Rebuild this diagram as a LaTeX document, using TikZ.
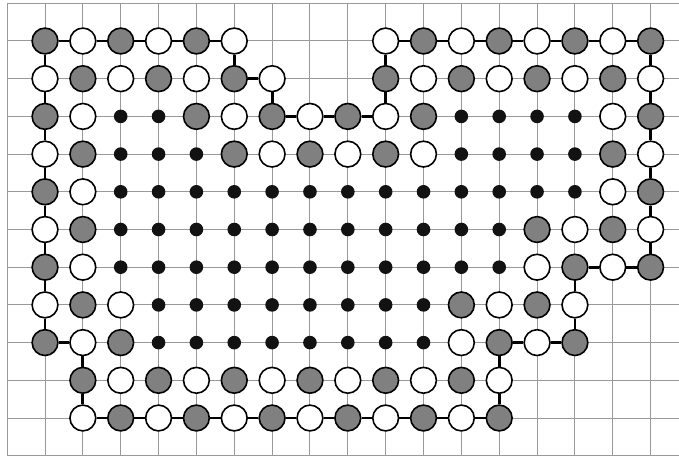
\documentclass[tikz,border=0pt]{standalone}
\usetikzlibrary{backgrounds}
\definecolor{gridc}{gray}{0.6}
\definecolor{fillg}{gray}{0.5}
\definecolor{dotc}{gray}{0.07}
\tikzset{
  gnode/.style={circle,draw=black,fill=fillg,line width=1.6pt,minimum size=25.8pt,inner sep=0pt},
  wnode/.style={gnode,fill=white},
  dotnode/.style={circle,fill=dotc,minimum size=13.6pt,inner sep=0pt},
  gridline/.style={draw=gridc,line width=1pt},
  loopline/.style={draw=black,line width=2.8pt},
}
\begin{document}
\begin{tikzpicture}[x=37.85pt,y=-37.7pt]
\useasboundingbox (-1.189,-1.0875) rectangle (16.750,11.034);
% ring circles (gray when column+row is even)
\foreach \r/\cl in {0/{0,1,2,3,4,5,9,10,11,12,13,14,15,16},
                    1/{0,1,2,3,4,5,6,9,10,11,12,13,14,15,16},
                    2/{0,1,4,5,6,7,8,9,10,15,16},
                    3/{0,1,5,6,7,8,9,10,15,16},
                    4/{0,1,15,16},
                    5/{0,1,13,14,15,16},
                    6/{0,1,13,14,15,16},
                    7/{0,1,2,11,12,13,14},
                    8/{0,1,2,11,12,13,14},
                    9/{1,2,3,4,5,6,7,8,9,10,11,12},
                    10/{1,2,3,4,5,6,7,8,9,10,11,12}}{
  \foreach \c in \cl {
    \pgfmathtruncatemacro\p{mod(\c+\r,2)}
    \ifnum\p=0
      \node[gnode] (n\c-\r) at (\c,\r) {};
    \else
      \node[wnode] (n\c-\r) at (\c,\r) {};
    \fi
  }
}
% interior dots
\foreach \r/\cl in {2/{2,3,11,12,13,14},
                    3/{2,3,4,11,12,13,14},
                    4/{2,3,4,5,6,7,8,9,10,11,12,13,14},
                    5/{2,3,4,5,6,7,8,9,10,11,12},
                    6/{2,3,4,5,6,7,8,9,10,11,12},
                    7/{3,4,5,6,7,8,9,10},
                    8/{3,4,5,6,7,8,9,10}}{
  \foreach \c in \cl {
    \node[dotnode] (d\c-\r) at (\c,\r) {};
  }
}
\begin{scope}[on background layer]
  \foreach \c in {-1,...,16} \draw[gridline] (\c,-1) -- (\c,11);
  \foreach \r in {-1,...,11} \draw[gridline] (-1,\r) -- (16.75,\r);
  \draw[loopline] (n0-0) -- (n1-0) -- (n2-0) -- (n3-0) -- (n4-0) -- (n5-0)
    -- (n5-1) -- (n6-1) -- (n6-2) -- (n7-2) -- (n8-2) -- (n9-2)
    -- (n9-1) -- (n9-0) -- (n10-0) -- (n11-0) -- (n12-0) -- (n13-0)
    -- (n14-0) -- (n15-0) -- (n16-0) -- (n16-1) -- (n16-2) -- (n16-3)
    -- (n16-4) -- (n16-5) -- (n16-6) -- (n15-6) -- (n14-6) -- (n14-7)
    -- (n14-8) -- (n13-8) -- (n12-8) -- (n12-9) -- (n12-10) -- (n11-10)
    -- (n10-10) -- (n9-10) -- (n8-10) -- (n7-10) -- (n6-10) -- (n5-10)
    -- (n4-10) -- (n3-10) -- (n2-10) -- (n1-10) -- (n1-9) -- (n1-8)
    -- (n0-8) -- (n0-7) -- (n0-6) -- (n0-5) -- (n0-4) -- (n0-3)
    -- (n0-2) -- (n0-1) -- (n0-0);
\end{scope}
\end{tikzpicture}
\end{document}
